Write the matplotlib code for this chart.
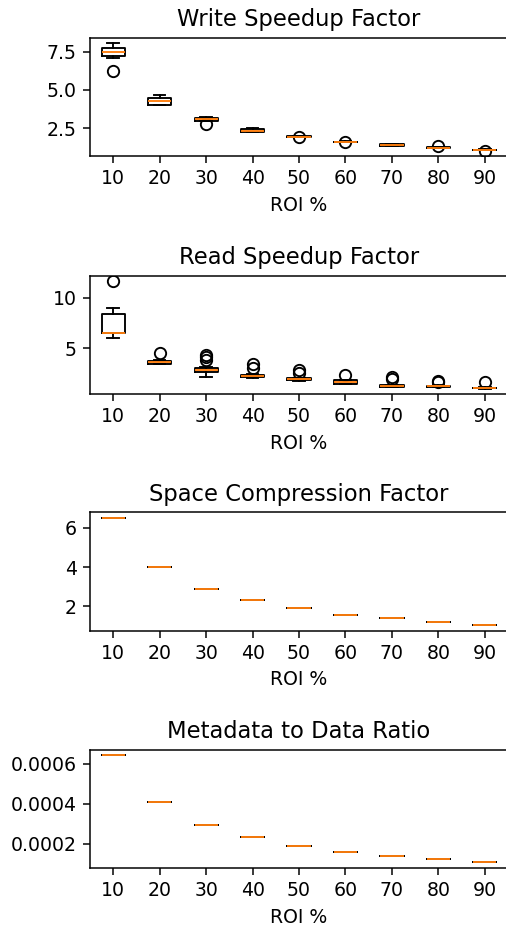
import matplotlib
matplotlib.use('Agg')
import matplotlib.pyplot as plt
from matplotlib.ticker import MultipleLocator
import numpy as np

roi = ['10', '20', '30', '40', '50', '60', '70', '80', '90']

# Write speedup factor
write_q1 = [7.20, 4.02, 3.00, 2.26, 1.93, 1.57, 1.36, 1.21, 1.06]
write_med = [7.50, 4.30, 3.09, 2.33, 1.95, 1.60, 1.42, 1.23, 1.08]
write_q3 = [7.72, 4.46, 3.17, 2.44, 1.97, 1.62, 1.43, 1.26, 1.10]
write_lo = [7.12, 4.02, 2.98, 2.25, 1.92, 1.56, 1.36, 1.20, 1.05]
write_hi = [8.07, 4.70, 3.26, 2.52, 1.98, 1.63, 1.43, 1.27, 1.11]
write_fl = [[6.22], [], [2.80], [], [1.90], [1.60], [], [1.30], [1.03]]

# Read speedup factor
read_q1 = [6.54, 3.45, 2.62, 2.12, 1.85, 1.48, 1.22, 1.20, 1.05]
read_med = [6.54, 3.63, 2.86, 2.27, 1.97, 1.72, 1.28, 1.28, 1.08]
read_q3 = [8.36, 3.75, 3.10, 2.38, 2.05, 1.82, 1.33, 1.32, 1.12]
read_lo = [5.99, 3.40, 2.20, 2.05, 1.80, 1.45, 1.18, 1.15, 1.02]
read_hi = [8.95, 3.80, 3.20, 2.45, 2.10, 1.88, 1.36, 1.36, 1.14]
read_fl = [[11.64], [4.51], [3.85, 4.11, 4.34], [3.03, 3.42], [2.60, 2.86], [2.36],
           [1.95, 2.14], [1.70, 1.80], [1.70]]

# Space compression factor (single value per ROI)
space = [6.51, 4.00, 2.89, 2.32, 1.90, 1.55, 1.39, 1.20, 1.03]

# Metadata to data ratio (single value per ROI)
meta = [0.000645, 0.000410, 0.000292, 0.000232, 0.000190, 0.000157, 0.000140, 0.000125, 0.000107]


def make_stats(q1, med, q3, lo, hi, fl):
    stats = []
    for i in range(len(roi)):
        stats.append({'q1': q1[i], 'med': med[i], 'q3': q3[i], 'whislo': lo[i],
                      'whishi': hi[i], 'fliers': fl[i], 'label': roi[i]})
    return stats


panels = [
    ('Write Speedup Factor', make_stats(write_q1, write_med, write_q3, write_lo, write_hi, write_fl), 2.5),
    ('Read Speedup Factor', make_stats(read_q1, read_med, read_q3, read_lo, read_hi, read_fl), 5),
    ('Space Compression Factor', make_stats(space, space, space, space, space, [[]] * 9), 2),
    ('Metadata to Data Ratio', make_stats(meta, meta, meta, meta, meta, [[]] * 9), 0.0002),
]

dpi = 136
fig = plt.figure(figsize=(506 / dpi, 925 / dpi), dpi=dpi)
bottoms = [0.8314, 0.5741, 0.3182, 0.0619]
for (title, stats, step), b in zip(panels, bottoms):
    ax = fig.add_axes([0.1779, b, 0.8261, 0.1278])
    ax.bxp(stats)
    ax.yaxis.set_major_locator(MultipleLocator(step))
    ax.set_title(title)
    ax.set_xlabel('ROI %')

fig.savefig('out.png', dpi=dpi)
